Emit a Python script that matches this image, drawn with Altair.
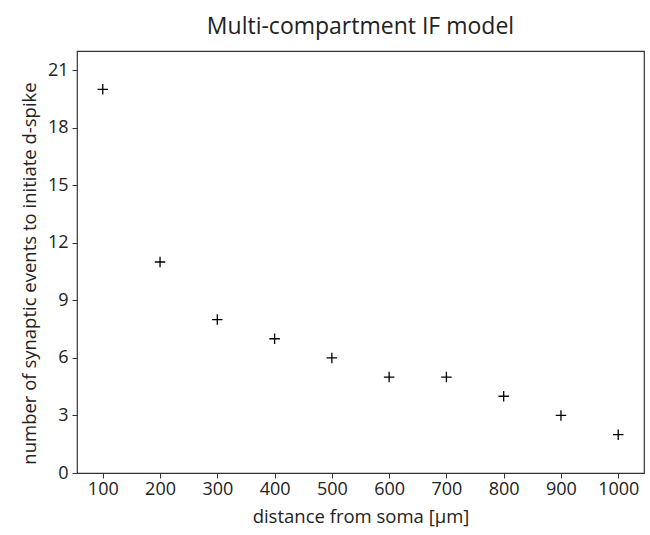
import altair as alt
import pandas as pd

# distance of the stimulated compartment from the soma (µm)
distance = [100, 200, 300, 400, 500, 600, 700, 800, 900, 1000]
# number of synaptic events needed to initiate a dendritic spike
events = [20, 11, 8, 7, 6, 5, 5, 4, 3, 2]

x_ticks = [100, 200, 300, 400, 500, 600, 700, 800, 900, 1000]
y_ticks = [0, 3, 6, 9, 12, 15, 18, 21]

df = pd.DataFrame({"distance": distance, "events": events})

FONT = "Open Sans"
TEXT = "#222222"
plus = "M-1,0L1,0M0,-1L0,1"

chart = (
    alt.Chart(df)
    .mark_point(shape=plus, size=110, filled=False, color="black", strokeWidth=1.3, opacity=1)
    .encode(
        x=alt.X(
            "distance:Q",
            scale=alt.Scale(domain=[55, 1045], nice=False, zero=False),
            axis=alt.Axis(
                values=x_ticks,
                format="d",
                title="distance from soma [μm]",
                grid=False,
                tickSize=5,
                labelFontSize=18,
                titleFontSize=18.5,
                labelPadding=2,
                titlePadding=9,
                domain=False,
            ),
        ),
        y=alt.Y(
            "events:Q",
            scale=alt.Scale(domain=[0, 22], nice=False),
            axis=alt.Axis(
                values=y_ticks,
                format="d",
                title="number of synaptic events to initiate d-spike",
                grid=False,
                tickSize=5,
                labelFontSize=18,
                titleFontSize=18.5,
                labelPadding=4,
                titlePadding=8,
                titleY=222,
                domain=False,
            ),
        ),
    )
    .properties(
        width=567,
        height=422,
        title=alt.TitleParams("Multi-compartment IF model", fontSize=23, fontWeight="normal", offset=12),
        autosize=alt.AutoSizeParams(type="none"),
        padding={"left": 77, "top": 51, "right": 6, "bottom": 62},
    )
    .configure(font=FONT)
    .configure_axis(
        labelColor=TEXT,
        titleColor=TEXT,
        tickColor="#333333",
        titleFontWeight="normal",
        labelFont=FONT,
        titleFont=FONT,
    )
    .configure_title(font=FONT, color=TEXT)
    .configure_view(stroke="#333333", strokeWidth=1.2)
)

chart.save("out.html", embed_options={"renderer": "svg", "actions": False})
